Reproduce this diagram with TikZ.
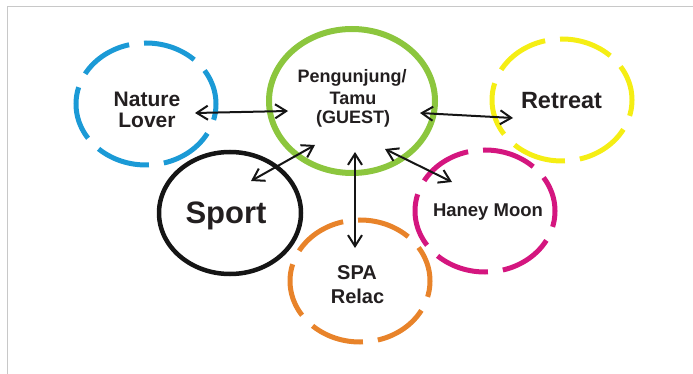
\documentclass[tikz,border=0pt]{standalone}
\usepackage{fontspec}
\setmainfont{Liberation Sans}
\usetikzlibrary{shapes.geometric,arrows.meta,calc}

\definecolor{ringblue}{HTML}{1B9AD6}
\definecolor{ringgreen}{HTML}{8CC63E}
\definecolor{ringyellow}{HTML}{F5EE14}
\definecolor{ringorange}{HTML}{E8832A}
\definecolor{ringmagenta}{HTML}{D4167F}
\definecolor{ringblack}{HTML}{151515}
\definecolor{textdark}{HTML}{231F20}
\definecolor{framegray}{HTML}{C8C8C8}

\begin{document}
\begin{tikzpicture}[x=1pt,y=-1pt,
  ring/.style={ellipse, draw, inner sep=0pt, minimum width=140pt, minimum height=122pt},
  dashring/.style={ring, line width=5pt, dash pattern=on 54pt off 15pt, dash phase=18pt},
  link/.style={{Straight Barb[length=11pt,width=14pt]}-{Straight Barb[length=11pt,width=14pt]},
    line width=2pt, draw=ringblack},
  lbl/.style={anchor=base, font=\bfseries, text=textdark, inner sep=0pt}
]
\useasboundingbox (0,0) rectangle (693,374);

% page frame
\coordinate (frameTL) at (7.5,6.5);
\coordinate (frameTR) at (693,6.5);
\coordinate (frameBL) at (7.5,374);
\draw[framegray, line width=1.3pt] (frameTR) -- (frameTL) -- (frameBL);

% rings
\node[dashring, draw=ringblue]    (nature)  at (146,104) {};
\node[dashring, draw=ringyellow]  (retreat) at (562,100) {};
\node[dashring, draw=ringmagenta] (haney)   at (485,211) {};
\node[dashring, draw=ringorange]  (spa)     at (360,281) {};
\node[ring, draw=ringgreen, line width=6pt, minimum width=166pt, minimum height=144pt] (guest) at (352,101) {};
\node[ring, draw=ringblack, line width=4.5pt, minimum width=142pt] (sport) at (230,213) {};

% two-way links between the guest and each segment
\draw[link] ($(nature.center)+(49,9)$)  -- ($(guest.center)+(-64,10)$);
\draw[link] ($(guest.center)+(68,12)$)  -- ($(retreat.center)+(-49,18)$);
\draw[link] ($(sport.center)+(21,-32)$) -- ($(guest.center)+(-37,44)$);
\draw[link] ($(guest.center)+(3,51)$)   -- ($(spa.center)+(-5,-33)$);
\draw[link] ($(guest.center)+(33,48)$)  -- ($(haney.center)+(-33,-29)$);

% labels
\node[lbl, font=\bfseries\fontsize{21}{21}\selectfont] (natureA) at (147,107) {Nature};
\node[lbl, font=\bfseries\fontsize{21}{21}\selectfont] (natureB) at (147,128) {Lover};
\node[lbl, font=\bfseries\fontsize{18}{18}\selectfont] (guestA) at (352,83) {Pengunjung/};
\node[lbl, font=\bfseries\fontsize{18}{18}\selectfont] (guestB) at (353,104.5) {Tamu};
\node[lbl, font=\bfseries\fontsize{18}{18}\selectfont] (guestC) at (353,124) {(GUEST)};
\node[lbl, font=\bfseries\fontsize{23.5}{23.5}\selectfont] (retreatA) at (561.5,109) {Retreat};
\node[lbl, font=\bfseries\fontsize{31}{31}\selectfont] (sportA) at (226,223) {Sport};
\node[lbl, font=\bfseries\fontsize{18.5}{18.5}\selectfont] (haneyA) at (488,216) {Haney Moon};
\node[lbl, font=\bfseries\fontsize{20}{20}\selectfont] (spaA) at (357,279) {SPA};
\node[lbl, font=\bfseries\fontsize{20}{20}\selectfont] (spaB) at (357.5,303) {Relac};
\end{tikzpicture}
\end{document}
